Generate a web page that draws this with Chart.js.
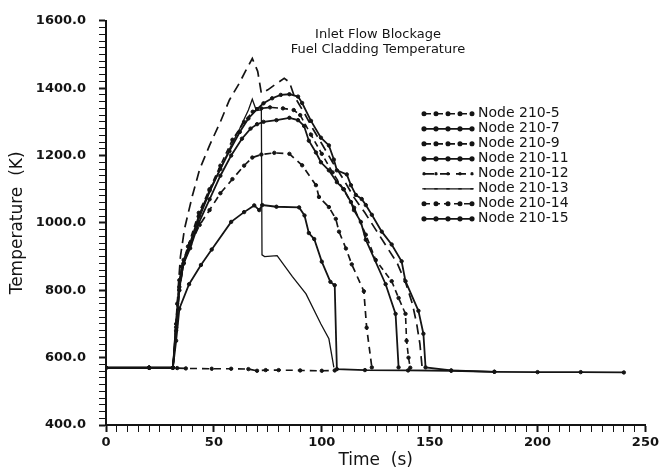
<!DOCTYPE html>
<html>
<head>
<meta charset="utf-8">
<script src="https://cdn.jsdelivr.net/npm/chart.js@4.4.1/dist/chart.umd.min.js"></script>
<style>
  body { margin: 0; background: #fff; }
  #wrap { width: 662px; height: 471px; }
</style>
</head>
<body>
<div id="wrap"><canvas id="temps" width="662" height="471"></canvas></div>
<script>
var titleLines = ['Inlet Flow Blockage', 'Fuel Cladding Temperature'];
var nodeNames = ['Node 210-5', 'Node 210-7', 'Node 210-9', 'Node 210-11',
                 'Node 210-12', 'Node 210-13', 'Node 210-14', 'Node 210-15'];

// time (s) / temperature (K)
var t5 = [0, 20, 31, 33, 37, 49, 58, 66, 70, 74, 80, 90, 100, 106];
var T5 = [570, 570, 570, 569, 568, 567, 567, 566, 561, 563, 563, 562, 561, 562];

var t7 = [0, 20, 31, 32.5, 34, 38.5, 44, 49, 58, 64, 68.7, 71, 72.4, 79, 89.5, 92, 94, 96.5, 100, 104, 106, 107, 120, 140, 160, 180, 200, 220, 240];
var T7 = [570, 570, 570, 650, 745, 818, 875, 921, 1003, 1032, 1052, 1038, 1053, 1048, 1046, 1022, 970, 952, 885, 825, 815, 566, 563, 562, 561, 558, 557, 557, 556];

var t9 = [0, 20, 31, 32.5, 34, 36, 39, 43.4, 48, 53, 58.6, 64, 67.8, 72, 78, 85, 90.9, 97.3, 98.7, 103.3, 106.5, 108, 111.2, 113.9, 119.5, 120.8, 123.2];
var T9 = [570, 570, 570, 680, 800, 880, 935, 994, 1038, 1088, 1130, 1170, 1194, 1203, 1208, 1205, 1171, 1112, 1077, 1047, 1012, 974, 924, 877, 797, 689, 571];

var t11 = [0, 20, 31, 32.5, 34, 36, 39, 43, 48, 53, 58, 63, 67, 70, 73, 79, 85, 89, 91.8, 94, 97.3, 99.6, 103.3, 107, 110.2, 113.5, 114.9, 118.1, 120.4, 129.6, 134.2, 135.6];
var T11 = [570, 570, 570, 690, 810, 880, 925, 1000, 1070, 1140, 1200, 1250, 1280, 1293, 1300, 1305, 1312, 1305, 1288, 1244, 1209, 1180, 1156, 1121, 1100, 1062, 1038, 1003, 950, 818, 730, 571];

var t12 = [0, 20, 31, 32.5, 33.5, 34.5, 36.4, 40, 43.4, 48, 53, 57.2, 61.8, 65, 67.8, 70.3, 72, 75, 78, 82.6, 85, 87.2, 92, 96, 100, 105, 110, 115, 120, 125, 130, 135, 139, 142, 144, 145.5, 146.5];
var T12 = [570, 570, 570, 700, 810, 900, 983, 1080, 1159, 1230, 1300, 1365, 1415, 1455, 1488, 1450, 1385, 1395, 1409, 1429, 1418, 1377, 1325, 1278, 1235, 1180, 1130, 1075, 1030, 980, 930, 880, 820, 760, 700, 640, 571];

var t13 = [0, 20, 31, 32, 33, 34.5, 36, 39, 43, 48, 53, 58, 62, 66, 67.8, 69.6, 72, 72.3, 73.5, 79.3, 86.3, 92.7, 99.6, 103.3, 105.6];
var T13 = [570, 570, 570, 640, 730, 820, 880, 930, 1010, 1090, 1160, 1230, 1280, 1335, 1367, 1335, 1335, 905, 900, 903, 841, 789, 700, 656, 571];

var t14 = [0, 20, 31, 33, 35, 38, 43, 48, 53, 58.6, 64, 68, 72, 76, 82, 87, 90, 95, 100, 105, 110, 115, 120.4, 125, 132.4, 135.6, 138.8, 139.3, 140.2, 141];
var T14 = [570, 570, 570, 760, 870, 930, 1030, 1100, 1170, 1247, 1300, 1330, 1340, 1343, 1340, 1335, 1320, 1262, 1205, 1150, 1100, 1045, 965, 890, 827, 777, 730, 650, 600, 570];

var t15 = [0, 20, 31, 32.5, 34, 36, 39, 43, 48, 53, 57.2, 62, 66, 70, 73, 77, 81, 85, 89, 90.9, 95, 99.6, 103.3, 105.6, 107, 111.6, 113.5, 115.8, 118.5, 120.4, 123.2, 127.8, 132.4, 137, 138.8, 144.8, 147.1, 148.1, 160, 180];
var T15 = [570, 570, 570, 700, 830, 890, 940, 1020, 1096, 1160, 1213, 1270, 1310, 1338, 1355, 1370, 1380, 1382, 1375, 1356, 1303, 1253, 1230, 1188, 1156, 1144, 1112, 1083, 1071, 1053, 1024, 974, 936, 886, 827, 739, 671, 571, 562, 558];

var ink = '#141414';

function pts(t, T) {
    return t.map(function (x, i) { return { x: x, y: T[i] }; });
}

function series(name, t, T, dash, radius, style, width) {
    return {
        label: name,
        data: pts(t, T),
        borderColor: ink,
        backgroundColor: ink,
        borderWidth: width,
        borderDash: dash,
        pointRadius: radius,
        pointStyle: style,
        pointBorderWidth: 1,
        tension: 0,
        fill: false
    };
}

var datasets = [
    series(nodeNames[0], t5, T5, [7, 5], 1.7, 'circle', 1.6),
    series(nodeNames[1], t7, T7, [], 1.7, 'circle', 1.8),
    series(nodeNames[2], t9, T9, [7, 5], 1.7, 'circle', 1.7),
    series(nodeNames[3], t11, T11, [], 1.7, 'circle', 1.8),
    series(nodeNames[4], t12, T12, [10, 6], 0, 'crossRot', 1.7),
    series(nodeNames[5], t13, T13, [], 0, 'line', 1.3),
    series(nodeNames[6], t14, T14, [6, 4], 1.7, 'circle', 1.6),
    series(nodeNames[7], t15, T15, [], 1.7, 'circle', 1.8)
];

var titleText = {
    id: 'titleText',
    afterDraw: function (chart) {
        var ctx = chart.ctx, a = chart.chartArea;
        ctx.save();
        ctx.fillStyle = ink;
        ctx.font = '13px "DejaVu Sans"';
        ctx.textAlign = 'center';
        ctx.textBaseline = 'middle';
        ctx.fillText(titleLines[0], a.left + 272, a.top + 14);
        ctx.fillText(titleLines[1], a.left + 272, a.top + 29);
        ctx.restore();
    }
};

var nodeLegend = {
    id: 'nodeLegend',
    afterDraw: function (chart) {
        var ctx = chart.ctx, a = chart.chartArea;
        var x0 = a.left + 318, x1 = a.left + 367, y = a.top + 93;
        ctx.save();
        chart.data.datasets.forEach(function (ds) {
            ctx.strokeStyle = ink;
            ctx.lineWidth = ds.borderWidth;
            ctx.setLineDash(ds.borderDash);
            ctx.beginPath();
            ctx.moveTo(x0, y);
            ctx.lineTo(x1, y);
            ctx.stroke();
            ctx.setLineDash([]);
            ctx.fillStyle = ink;
            for (var k = 0; k < 5; k++) {
                Chart.helpers.drawPoint(ctx, {
                    pointStyle: ds.pointStyle,
                    radius: 1.7,
                    borderWidth: 1
                }, x0 + k * 12, y);
            }
            ctx.fillStyle = ink;
            ctx.font = '14px "DejaVu Sans"';
            ctx.textAlign = 'left';
            ctx.textBaseline = 'middle';
            ctx.fillText(ds.label, x1 + 5, y);
            y += 15;
        });
        ctx.restore();
    }
};

var ctx = document.getElementById('temps').getContext('2d');
var tempChart = new Chart(ctx, {
    type: 'line',
    data: { datasets: datasets },
    options: {
        responsive: false,
        animation: false,
        layout: { padding: { top: 17, right: 14, left: 0, bottom: 0 } },
        plugins: { legend: { display: false }, tooltip: { enabled: false } },
        scales: {
            x: {
                type: 'linear',
                min: 0,
                max: 250,
                afterFit: function (s) { s.height = 46; },
                border: { display: true, color: ink, width: 2 },
                grid: {
                    drawOnChartArea: false,
                    tickLength: 7,
                    color: ink,
                    tickWidth: function (c) { return c.tick && c.tick.value % 50 === 0 ? 2 : 1; }
                },
                ticks: {
                    stepSize: 5,
                    autoSkip: false,
                    maxRotation: 0,
                    padding: 3,
                    color: ink,
                    font: { family: '"DejaVu Sans"', size: 13, weight: 'bold' },
                    callback: function (v) { return v % 50 === 0 ? String(v) : ''; }
                },
                title: {
                    display: true,
                    text: 'Time  (s)',
                    color: ink,
                    padding: { top: 0, bottom: 0 },
                    font: { family: '"DejaVu Sans"', size: 17 }
                }
            },
            y: {
                min: 400,
                max: 1600,
                afterFit: function (s) { s.width = 106; },
                border: { display: true, color: ink, width: 2 },
                grid: {
                    drawOnChartArea: false,
                    tickLength: 7,
                    color: ink,
                    tickWidth: function (c) { return c.tick && c.tick.value % 200 === 0 ? 2 : 1; }
                },
                ticks: {
                    stepSize: 20,
                    autoSkip: false,
                    padding: 13,
                    color: ink,
                    font: { family: '"DejaVu Sans"', size: 13, weight: 'bold' },
                    callback: function (v) { return v % 200 === 0 ? v.toFixed(1) : ''; }
                },
                title: {
                    display: true,
                    text: 'Temperature  (K)',
                    color: ink,
                    padding: { top: 7, bottom: 0 },
                    font: { family: '"DejaVu Sans"', size: 17 }
                }
            }
        }
    },
    plugins: [titleText, nodeLegend]
});
</script>
</body>
</html>
